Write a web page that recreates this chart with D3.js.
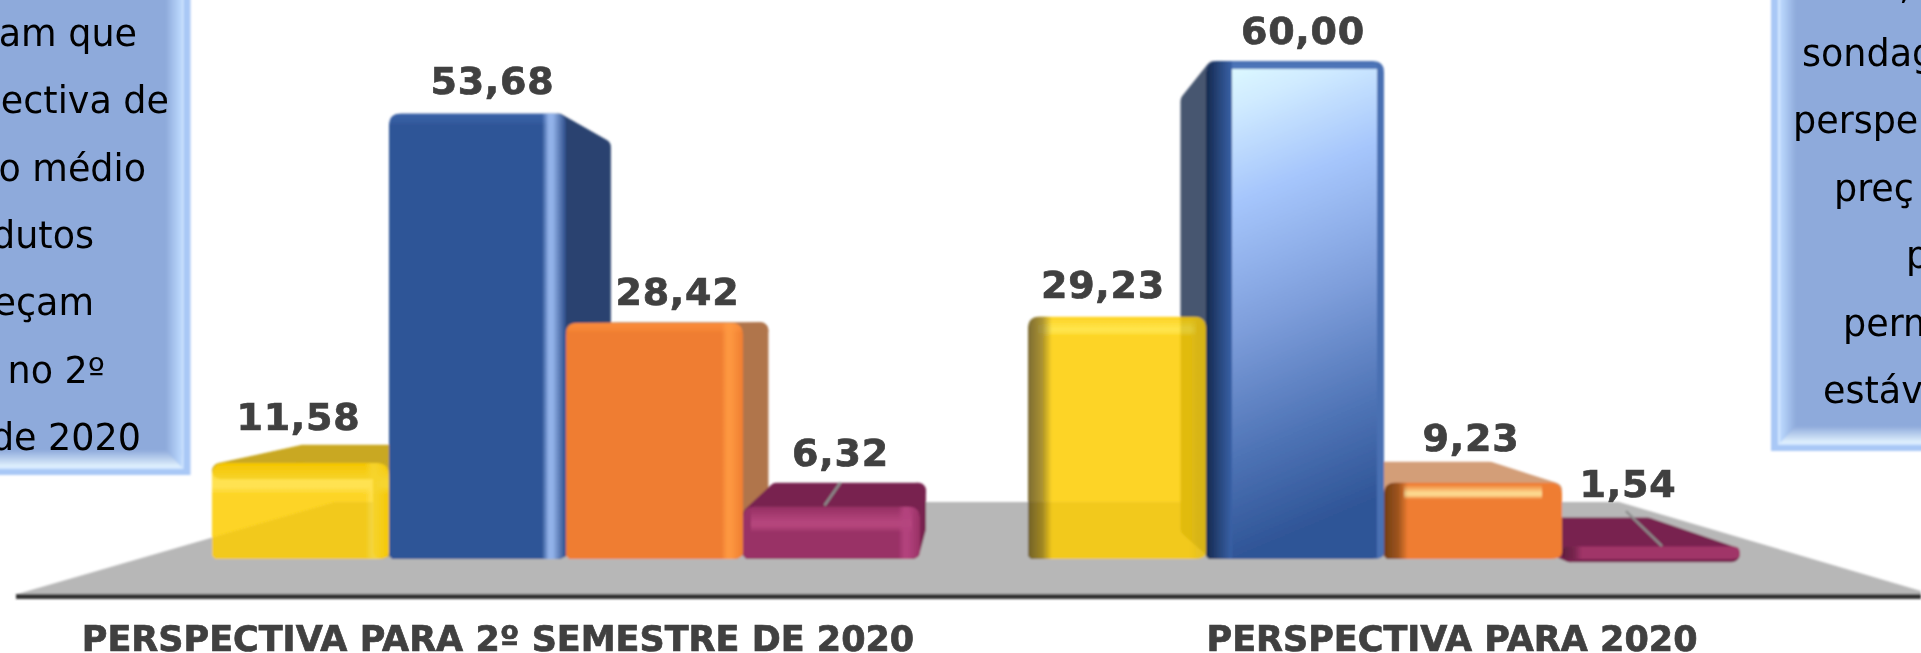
<!DOCTYPE html>
<html lang="pt">
<head>
<meta charset="utf-8">
<script src="https://cdn.jsdelivr.net/npm/d3@7/dist/d3.min.js"></script>
<style>
html,body{margin:0;padding:0;background:#fff;overflow:hidden}
svg{display:block}
text{font-family:"DejaVu Sans",Verdana,sans-serif}
</style>
</head>
<body>
<svg id="chart" width="1921" height="653"></svg>
<script>
// ---- data
const categories = ["PERSPECTIVA PARA 2º SEMESTRE DE 2020", "PERSPECTIVA PARA 2020"];
const seriesNames = ["amarelo", "azul", "laranja", "roxo"];
const amarelo = [11.58, 29.23];
const azul = [53.68, 60.00];
const laranja = [28.42, 9.23];
const roxo = [6.32, 1.54];
const leftNote = ["am que", "ectiva de", "o médio", "dutos", "eçam", "no 2º", "de 2020"];
const rightNote = [",", "sondag", "perspe", "preç", "p", "perm", "estáv"];

// ---- layout
const W = 1921, H = 653;
const baseY = 559, topY = 61;
const vp = {x: 974, y: 317}, kx = 0.11, ky = 0.125;
const groupRanges = [[212, 920], [1028, 1740]];
const axisY = 596.5;
const categoryAnchors = [498, 1452], categoryBaseline = 651;
const labelNudges = [[[-2,1],[15,-3],[23,-1],[9,-1]], [[-14,-2],[8,-1],[-2,5],[-23,-5]]];
const leaderSpecs = [{g:0, dx0:9, dy0:-24, dx1:-7, dy1:-1}, {g:1, dx0:-25, dy0:-35, dx1:11, dy1:0}];
const lineStep = 67.4;
const leftNoteEnds = [137,169,146,94,94,105,141];
const rightNoteStarts = [1899,1802,1793,1834,1906,1843,1823];

const y = d3.scaleLinear().domain([0, 60]).range([baseY, topY]);
const xGroup = groupRanges.map(r => d3.scaleBand().domain(seriesNames).range(r).padding(0));
const values = {amarelo, azul, laranja, roxo};

const px = x => x + (vp.x - x) * kx;
const py = v => v + (vp.y - v) * ky;

// bevel kinds: fade = edge to transparent, ridge = highlight strip inside the edge, solid = opaque rim
const styles = [
  { amarelo:{front:"#fdcd00",op:.85,side:"#c9a820",top:"#c9a820",
             R:{c:"#ffdc30",kind:"ridge",w:24},T:{c:"#ffdf3a",kind:"ridge",h:30,i:0}},
    azul:{front:"#2f5597",side:"#2a4370",top:"#2a4370",
             R:{c:"#9dbcf2",kind:"ridge",w:24,end:"#2a4a86"},T:{c:"#3a62a8",kind:"fade",h:12}},
    laranja:{front:"#ef7d31",side:"#b0744b",top:"#b0744b",
             R:{c:"#ff9a42",kind:"ridge",w:22},T:{c:"#fb8c3a",kind:"fade",h:10}},
    roxo:{front:"#993166",side:"#78244f",top:"#78244f",
             R:{c:"#b5447f",kind:"ridge",w:22},T:{c:"#b8487f",kind:"ridge",h:24,i:8}} },
  { amarelo:{front:"#fdcd00",op:.85,side:null,top:null,
             L:{c:"#5e4c10",kind:"fade",w:24},R:{c:"#eec30a",kind:"fade",w:16},T:{c:"#ffe22e",kind:"ridge",h:18,i:10}},
    azul:{front:"url(#blueFace)",side:"#475670",top:"#475670",
             L:{c:"#14284e",kind:"solid",w:26,end:"#3a62a8"},R:{c:"#4a70b2",kind:"solid",w:7,end:"#4a70b2"},T:{c:"#4a70b2",kind:"solid",h:8,end:"#4f78bc"}},
    laranja:{front:"#ef7d31",side:"#d39e78",top:"#d39e78",
             L:{c:"#6a3a12",kind:"fade",w:24},T:{c:"#ffe39a",kind:"ridge",h:15,i:20}},
    roxo:{front:"#a03468",side:"#78244f",top:"#78244f",
             L:{c:"#5c1c3c",kind:"fade",w:20}} }
];

const svg = d3.select("#chart");
const defs = svg.append("defs");
defs.append("filter").attr("id","soft").attr("x","-2%").attr("y","-2%").attr("width","104%").attr("height","104%")
  .append("feGaussianBlur").attr("stdDeviation",0.9);
defs.append("filter").attr("id","softText").attr("x","-2%").attr("y","-2%").attr("width","104%").attr("height","104%")
  .append("feGaussianBlur").attr("stdDeviation",0.45);

const blue = defs.append("linearGradient").attr("id","blueFace").attr("x1",0).attr("y1",0).attr("x2",0.15).attr("y2",1);
[[0,"#e2ffff"],[.12,"#cfeaff"],[.3,"#a6c6fc"],[.55,"#7f9fdc"],[.8,"#4f74b6"],[1,"#2f5597"]]
  .forEach(s => blue.append("stop").attr("offset",s[0]).attr("stop-color",s[1]));

function bevelGrad(id, spec, dir) {
  const g = defs.append("linearGradient").attr("id", id);
  const v = dir === "T";
  g.attr("x1", dir === "R" ? 1 : 0).attr("x2", dir === "L" ? 1 : 0)
   .attr("y1", 0).attr("y2", v ? 1 : 0);
  const add = (o, c, a) => g.append("stop").attr("offset",o).attr("stop-color",c).attr("stop-opacity",a);
  if (spec.kind === "fade") { add(0,spec.c,.95); add(.6,spec.c,.6); add(1,spec.c,0); }
  if (spec.kind === "solid") { add(0,spec.c,1); add(1,spec.end,1); }
  if (spec.kind === "ridge") {
    add(0, spec.end || spec.c, spec.end ? .9 : 0);
    add(.55, spec.c, .9); add(.72, spec.c, .9); add(1, spec.c, 0);
  }
  return `url(#${id})`;
}

// ---- note boxes: outer band, bright hairline, bevel gradient, flat face
function noteBox(root, x0, y1, edge, side) {
  const s = side === "right" ? -1 : 1;
  const b = root.append("g");
  const rect = (xa, xb, ya, yb, fill) => b.append("rect")
    .attr("x",Math.min(xa,xb)).attr("width",Math.abs(xb-xa)).attr("y",ya).attr("height",yb-ya).attr("fill",fill);
  const gv = defs.append("linearGradient").attr("id","bv"+side)
    .attr("x1",s>0?0:1).attr("x2",s>0?1:0).attr("y1",0).attr("y2",0);
  gv.append("stop").attr("offset",0).attr("stop-color","#bddaff");
  gv.append("stop").attr("offset",1).attr("stop-color","#8eaadb");
  const gh = defs.append("linearGradient").attr("id","bh"+side)
    .attr("x1",0).attr("x2",0).attr("y1",1).attr("y2",0);
  gh.append("stop").attr("offset",0).attr("stop-color","#e3f3ff");
  gh.append("stop").attr("offset",1).attr("stop-color","#8eaadb");
  rect(x0, edge, -10, y1, "#a9c8f6");
  rect(x0, edge + s*7, -10, y1-6, "#d4e8ff");
  rect(x0, edge + s*9, -10, y1-8, "#8eaadb");
  rect(x0, edge + s*9, y1-25, y1-8, `url(#bh${side})`);
  b.append("polygon")
    .attr("points", [[edge+s*9,-10],[edge+s*25,-10],[edge+s*25,y1-25],[edge+s*9,y1-8]].map(p=>p.join(",")).join(" "))
    .attr("fill",`url(#bv${side})`);
}

const page = svg.append("g").attr("filter","url(#soft)");
const labelsLayer = svg.append("g").attr("filter","url(#softText)");

noteBox(page, -10, 475, 190.5, "right");
noteBox(page, 1931, 451, 1771, "left");

const noteFont = 36.5;
labelsLayer.append("g").selectAll("text").data(leftNote).join("text")
  .attr("x",(d,i)=>leftNoteEnds[i])
  .attr("y",(d,i)=>45.8+i*lineStep)
  .attr("text-anchor","end").attr("font-size",noteFont).attr("fill","#000").text(d=>d);
labelsLayer.append("g").selectAll("text").data(rightNote).join("text")
  .attr("x",(d,i)=>rightNoteStarts[i])
  .attr("y",(d,i)=>-1.4+i*lineStep)
  .attr("text-anchor","start").attr("font-size",noteFont).attr("fill","#000").text(d=>d);

// ---- floor and axis line
page.append("path").attr("fill","#b7b7b7")
  .attr("d", d3.line()([[14,595],[335,502],[1619,502],[W,591],[W,595]]) + "Z");
page.append("line").attr("x1",16).attr("x2",W).attr("y1",axisY).attr("y2",axisY)
  .attr("stroke","#333").attr("stroke-width",5);

// ---- bars
function frontPath(x0, x1, yt, yb, rt, rb) {
  const p = d3.path();
  p.moveTo(x0, yt + rt);
  p.quadraticCurveTo(x0, yt, x0 + rt, yt);
  p.lineTo(x1 - rt, yt);
  p.quadraticCurveTo(x1, yt, x1, yt + rt);
  p.lineTo(x1, yb - rb);
  p.quadraticCurveTo(x1, yb, x1 - rb*2, yb);
  p.lineTo(x0 + 3, yb);
  p.lineTo(x0, yb - 3);
  p.closePath();
  return p.toString();
}

function drawBar(g, gi, name, si) {
  const v = values[name][gi];
  const sc = xGroup[gi];
  const st = styles[gi][name];
  const x0 = sc(name), x1 = x0 + sc.bandwidth();
  const yt = y(v), yb = y(0);
  const id = `c${gi}${si}`;
  const node = g.append("g").attr("class","bar");
  const ins = 8;
  const face = (pts, c) => node.append("polygon").attr("points", pts.map(p=>p.join(",")).join(" "))
    .attr("fill",c).attr("stroke",c).attr("stroke-width",ins*2).attr("stroke-linejoin","round");
  if (st.top && yt > vp.y) {
    face([[x0+ins,yt+ins],[x1-ins,yt+ins],[px(x1)-ins,py(yt)+ins],[px(x0)+ins,py(yt)+ins]], st.top);
  }
  if (st.side) {
    const sx = gi === 0 ? x1 : x0, d = gi === 0 ? -ins : ins;
    face([[sx+d,yt+ins],[px(sx)+d,py(yt)+ins],[px(sx)+d,py(yb)],[sx+d,yb-ins]], st.side);
  }
  const h = yb - yt, rt = Math.min(12, h/2), rb = Math.min(6, h/3);
  const d = frontPath(x0, x1, yt, yb, rt, rb);
  node.append("clipPath").attr("id",id).append("path").attr("d",d);
  const f = node.append("g").attr("clip-path",`url(#${id})`).attr("opacity",st.op||1);
  f.append("path").attr("d",d).attr("fill",st.front);
  if (st.T) {
    const i = st.T.i || 0;
    f.append("rect").attr("x",x0+i).attr("y",yt + (st.T.kind==="ridge" ? 2 : 0)).attr("width",x1-x0-2*i)
      .attr("height",Math.min(st.T.h,h*.8)).attr("fill",bevelGrad(`t${id}`,st.T,"T"));
  }
  if (st.L) f.append("rect").attr("x",x0).attr("y",yt).attr("width",st.L.w).attr("height",h).attr("fill",bevelGrad(`l${id}`,st.L,"L"));
  if (st.R) f.append("rect").attr("x",x1-st.R.w).attr("y",yt).attr("width",st.R.w).attr("height",h).attr("fill",bevelGrad(`r${id}`,st.R,"R"));
}

page.append("g").call(g => seriesNames.forEach((n,i) => drawBar(g,0,n,i)));
page.append("g").call(g => seriesNames.map((n,i)=>[n,i]).reverse().forEach(([n,i]) => drawBar(g,1,n,i)));

// ---- leader lines
leaderSpecs.forEach(l => {
  const v = roxo[l.g], c = xGroup[l.g]("roxo") + xGroup[l.g].bandwidth()/2;
  page.append("line").attr("x1",c+l.dx0).attr("y1",y(v)+l.dy0).attr("x2",c+l.dx1).attr("y2",y(v)+l.dy1)
    .attr("stroke","#8c8c8c").attr("stroke-width",2.5);
});

// ---- value labels and category labels
const fmt = v => v.toFixed(2).replace(".", ",");
categories.forEach((c,gi) => {
  seriesNames.forEach((n,si) => {
    const v = values[n][gi], sc = xGroup[gi];
    const yt = y(v), top = Math.min(yt, py(yt));
    labelsLayer.append("text")
      .attr("x", sc(n)+sc.bandwidth()/2+labelNudges[gi][si][0])
      .attr("y", top-16+labelNudges[gi][si][1])
      .attr("text-anchor","middle").attr("font-size",38).attr("font-weight",700)
      .attr("letter-spacing",0.8).attr("stroke","#404040").attr("stroke-width",0.7)
      .attr("fill","#404040").text(fmt(v));
  });
  labelsLayer.append("text").attr("x",categoryAnchors[gi]).attr("y",categoryBaseline)
    .attr("text-anchor","middle").attr("font-size",35).attr("font-weight",700)
    .attr("stroke","#404040").attr("stroke-width",0.7)
    .attr("fill","#404040").text(c);
});
</script>
</body>
</html>
